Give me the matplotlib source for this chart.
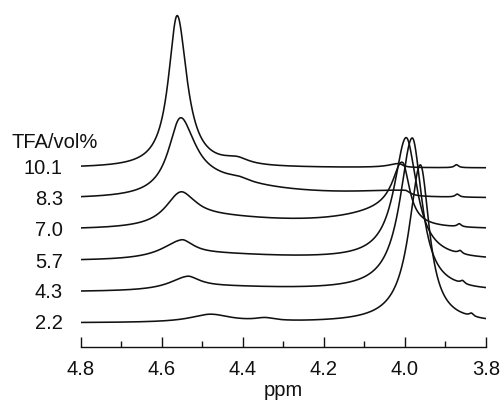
import numpy as np
import matplotlib
matplotlib.use("Agg")
import matplotlib.pyplot as plt
from matplotlib.ticker import MultipleLocator, FormatStrFormatter

plt.rcParams["font.family"] = ["Liberation Sans", "DejaVu Sans"]

# TFA content of each spectrum, top to bottom
tfa_levels = ["10.1", "8.3", "7.0", "5.7", "4.3", "2.2"]
# vertical offset of each spectrum's baseline (intensity units)
baseline_offsets = [179, 148, 117, 86, 55, 24]

# Peak tables per spectrum:
# (centre / ppm, height, half-width on the high-ppm side, half-width on the low-ppm side)
peaks_10_1 = [
    (4.562, 152, 0.026, 0.029),
    (4.415, 6, 0.040, 0.035),
    (4.015, 4, 0.030, 0.012),
    (3.873, 3, 0.006, 0.006),
]
peaks_8_3 = [
    (4.555, 69, 0.035, 0.040),
    (4.510, 18, 0.060, 0.200),
    (4.410, 3, 0.030, 0.030),
    (4.000, 6, 0.150, 0.015),
    (3.871, 3, 0.006, 0.006),
]
peaks_7_0 = [
    (4.555, 29, 0.045, 0.040),
    (4.510, 12, 0.060, 0.250),
    (4.005, 52, 0.030, 0.020),
    (4.020, 16, 0.150, 0.030),
    (3.866, 3, 0.006, 0.006),
]
peaks_5_7 = [
    (4.552, 16, 0.060, 0.032),
    (4.510, 7, 0.060, 0.250),
    (3.997, 122, 0.036, 0.032),
    (3.864, 3, 0.006, 0.006),
]
peaks_4_3 = [
    (4.537, 12, 0.055, 0.032),
    (4.490, 5, 0.060, 0.250),
    (3.982, 153, 0.037, 0.029),
    (3.858, 3, 0.006, 0.006),
]
peaks_2_2 = [
    (4.480, 8, 0.060, 0.060),
    (4.345, 3, 0.030, 0.030),
    (3.962, 158, 0.034, 0.027),
    (3.836, 3, 0.006, 0.006),
]
peak_tables = [peaks_10_1, peaks_8_3, peaks_7_0, peaks_5_7, peaks_4_3, peaks_2_2]

ppm_min, ppm_max = 3.8, 4.8
major_ticks = [4.8, 4.6, 4.4, 4.2, 4.0, 3.8]


def lorentzian_sum(ppm, peaks):
    total = np.zeros_like(ppm)
    for centre, height, w_hi, w_lo in peaks:
        width = np.where(ppm >= centre, w_hi, w_lo)
        total += height / (1.0 + ((ppm - centre) / width) ** 2)
    return total


fig = plt.figure(figsize=(5.01, 4.02), dpi=100)
ax = fig.add_axes([80.7 / 501, 54 / 402, 405.3 / 501, 348 / 402])

ppm = np.linspace(ppm_max, ppm_min, 3000)
for label, offset, peaks in zip(tfa_levels, baseline_offsets, peak_tables):
    ax.plot(ppm, offset + lorentzian_sum(ppm, peaks), color="#111111",
            lw=1.15, solid_joinstyle="round")
    ax.text(-0.044, offset, label, transform=ax.get_yaxis_transform(),
            ha="right", va="center", fontsize=14.5, color="#111111")

fig.text(12 / 501, 1 - 142 / 402, "TFA/vol%", ha="left", va="center",
         fontsize=14.5, color="#111111")

ax.set_xlim(ppm_max, ppm_min)
ax.set_ylim(0, 348)
for side in ("top", "left", "right"):
    ax.spines[side].set_visible(False)
ax.spines["bottom"].set_linewidth(1.0)
ax.spines["bottom"].set_color("#111111")
ax.set_yticks([])
ax.set_xticks(major_ticks)
ax.xaxis.set_major_formatter(FormatStrFormatter("%.1f"))
ax.xaxis.set_minor_locator(MultipleLocator(0.1))
ax.tick_params(axis="x", which="major", direction="in", length=7.5, width=1.0,
               pad=9, labelsize=14.5, colors="#111111")
ax.tick_params(axis="x", which="minor", direction="in", length=4, width=1.0,
               colors="#111111")
ax.set_xlabel("ppm", fontsize=14.5, labelpad=1, color="#111111")
ax.patch.set_visible(False)

fig.savefig("out.png", dpi=100)
